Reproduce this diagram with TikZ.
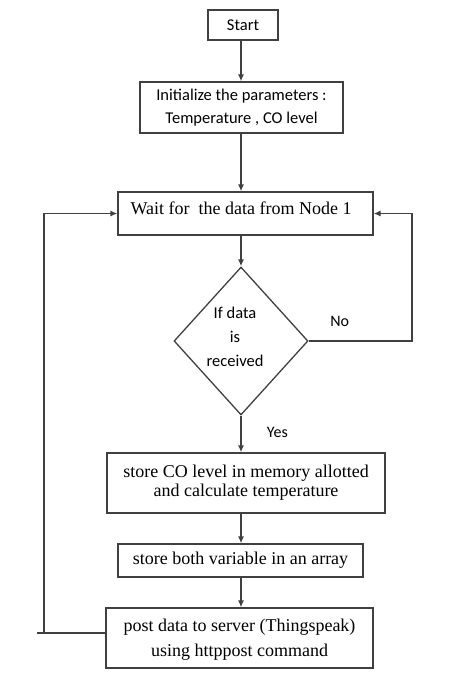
\documentclass[tikz,border=0pt]{standalone}
\usepackage{fontspec}
\setmainfont{Liberation Serif}
\newfontfamily\calibri{Carlito}
\usepackage{tikz}
\usetikzlibrary{shapes.geometric,arrows.meta,positioning,calc}
\definecolor{flowline}{HTML}{404040}

\begin{document}
\begin{tikzpicture}[x=1pt, y=-1pt,
  box/.style={draw=flowline, line width=1.3pt, rectangle, align=center, inner sep=0pt},
  sansbox/.style={box, font=\calibri\fontsize{16.5}{23}\selectfont},
  serifbox/.style={box, font=\fontsize{18}{19}\selectfont},
  decision/.style={draw=flowline, line width=1.3pt, diamond, inner sep=0pt, minimum width=134pt, minimum height=148pt},
  lbl/.style={font=\calibri\fontsize{16}{18}\selectfont},
  flow/.style={->, line width=1.3pt, draw=flowline},
  >={Latex[length=7pt,width=6pt]}
]
\useasboundingbox (0,0) rectangle (462,674);

\node[sansbox, minimum width=70pt, minimum height=30pt] (start) at (243,25) {Start};
\node[sansbox, minimum width=203pt, minimum height=51pt] (init) at (241.5,107.5) {Initialize the parameters :\\Temperature , CO level};
\node[serifbox, minimum width=255pt, minimum height=43pt] (wait) at (245.5,213.5) {};
\node[font=\fontsize{18}{19}\selectfont] (waittxt) at (241,208) {Wait for\ \ the data from Node 1};
\node[decision] (check) at (241,341) {};
\node[font=\calibri\fontsize{16.5}{24}\selectfont, align=center] (checktxt) at (235,337) {If data\\is\\received};
\node[serifbox, minimum width=278pt, minimum height=60pt] (storeco) at (246,483) {store CO level in memory allotted\\and calculate temperature};
\node[serifbox, minimum width=245pt, minimum height=33pt] (storeboth) at (240.5,560.5) {store both variable in an array};
\node[serifbox, font=\fontsize{18}{25}\selectfont, text depth=0pt, minimum width=267pt, minimum height=60pt] (post) at (239.5,638) {post data to server (Thingspeak)\\using httppost command};

\coordinate (leftend) at (37,633);
\coordinate (leftup) at (44,213.5);
\coordinate (rightdown) at (412,341);
\coordinate (rightup) at (412,213.5);

% main spine, all on the diamond's axis
\draw[flow] (start.south -| check) -- (init.north -| check);
\draw[flow] (init.south -| check) -- (wait.north -| check);
\draw[flow] (wait.south -| check) -- (check.north);
\draw[flow] (check.south) -- node[lbl, right=22pt, pos=0.45] {Yes} (storeco.north -| check);
\draw[flow] (storeco.south -| check) -- (storeboth.north -| check);
\draw[flow] (storeboth.south -| check) -- (post.north -| check);
% loops back
\draw[flow] (check.east) -- node[lbl, above=10pt, pos=0.3] {No} (rightdown) -- (rightup) -- (wait.east);
\draw[line width=1.3pt, draw=flowline] (post.west |- leftend) -- (leftend);
\draw[flow] (leftup |- leftend) -- (leftup) -- (wait.west);

\end{tikzpicture}
\end{document}
